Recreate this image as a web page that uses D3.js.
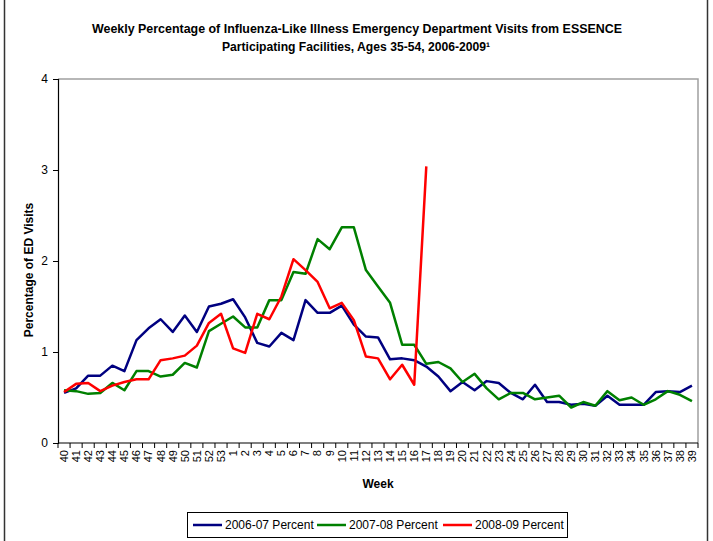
<!DOCTYPE html>
<html>
<head>
<meta charset="utf-8">
<script src="https://cdn.jsdelivr.net/npm/d3@7"></script>
<style>
  body { margin: 0; background: #fff; }
  svg { display: block; font-family: "Liberation Sans", Arial, sans-serif; }
</style>
</head>
<body>
<svg id="chart" width="713" height="541"></svg>
<script>
// weeks of the flu season, week 40 through week 39 of the next year
const weeks = ["40","41","42","43","44","45","46","47","48","49","50","51","52","53",
  "1","2","3","4","5","6","7","8","9","10","11","12","13","14","15","16","17","18","19",
  "20","21","22","23","24","25","26","27","28","29","30","31","32","33","34","35","36",
  "37","38","39"];

const season0607 = [0.55,0.60,0.74,0.74,0.85,0.79,1.13,1.26,1.36,1.22,1.40,1.22,1.50,1.53,
  1.58,1.38,1.10,1.06,1.21,1.13,1.57,1.43,1.43,1.51,1.30,1.17,1.16,0.92,0.93,0.91,0.84,0.73,0.57,
  0.67,0.58,0.68,0.66,0.55,0.48,0.64,0.45,0.45,0.42,0.43,0.41,0.52,0.42,0.42,0.42,0.56,
  0.57,0.56,0.63];

const season0708 = [0.58,0.57,0.54,0.55,0.66,0.58,0.79,0.79,0.73,0.75,0.88,0.83,1.23,1.31,
  1.39,1.27,1.27,1.57,1.57,1.88,1.86,2.24,2.13,2.37,2.37,1.90,1.72,1.54,1.08,1.08,0.87,0.89,0.82,
  0.67,0.76,0.60,0.48,0.55,0.55,0.48,0.50,0.52,0.39,0.45,0.41,0.57,0.47,0.50,0.42,0.48,
  0.57,0.53,0.46];

// 2008-09 season only reported through week 17
const season0809 = [0.56,0.65,0.66,0.57,0.63,0.67,0.70,0.70,0.91,0.93,0.96,1.07,1.32,1.42,
  1.04,0.99,1.42,1.36,1.61,2.02,1.90,1.77,1.48,1.54,1.35,0.95,0.93,0.70,0.86,0.64,3.04];

const seriesNames = ["2006-07 Percent", "2007-08 Percent", "2008-09 Percent"];
const seriesColors = ["#000080", "#008000", "#ff0000"];
const yTicks = [0, 1, 2, 3, 4];

const series = [season0607, season0708, season0809].map((vals, i) => ({
  name: seriesNames[i],
  color: seriesColors[i],
  points: vals.map((v, j) => ({ week: weeks[j], value: v }))
}));

const svg = d3.select("#chart");
const plot = { left: 58, right: 698, top: 79, bottom: 443 };

// outer frame
svg.append("rect")
  .attr("x", 4.5).attr("y", -2)
  .attr("width", 703).attr("height", 546)
  .attr("fill", "none")
  .attr("stroke", "#333")
  .attr("stroke-width", 1.5);

const xScale = d3.scaleBand()
  .domain(weeks)
  .range([plot.left, plot.right])
  .padding(0);

const yScale = d3.scaleLinear()
  .domain([0, 4])
  .range([plot.bottom, plot.top]);

// plot area top/right border in grey
svg.append("path")
  .attr("d", `M${plot.left},${plot.top}H${plot.right}V${plot.bottom}`)
  .attr("fill", "none")
  .attr("stroke", "#a0a0a0")
  .attr("stroke-width", 1.5);

// y axis
const yAxis = svg.append("g")
  .attr("transform", `translate(${plot.left},0)`)
  .call(d3.axisLeft(yScale).tickValues(yTicks).tickFormat(d3.format("d")).tickSize(5).tickPadding(5));
yAxis.select(".domain").attr("stroke", "#000").attr("stroke-width", 1.2);
yAxis.selectAll(".tick line").attr("stroke", "#000");
yAxis.selectAll(".tick text")
  .attr("font-size", 12)
  .attr("font-family", "Liberation Sans, Arial, sans-serif")
  .attr("fill", "#000");

// x axis: labels at category centres, tick marks between categories
const xAxis = svg.append("g")
  .attr("transform", `translate(0,${plot.bottom})`)
  .call(d3.axisBottom(xScale).tickSize(0).tickPadding(0));
xAxis.select(".domain").remove();
xAxis.selectAll(".tick text")
  .attr("font-size", 11)
  .attr("font-family", "Liberation Sans, Arial, sans-serif")
  .attr("fill", "#000")
  .attr("transform", "rotate(-90)")
  .attr("text-anchor", "end")
  .attr("dy", "0.35em")
  .attr("x", -7)
  .attr("y", 0);

svg.append("line")
  .attr("x1", plot.left).attr("x2", plot.right)
  .attr("y1", plot.bottom).attr("y2", plot.bottom)
  .attr("stroke", "#000").attr("stroke-width", 1.2);

const boundaries = weeks.map(w => xScale(w)).concat([xScale(weeks[weeks.length - 1]) + xScale.bandwidth()]);
svg.append("g")
  .selectAll("line")
  .data(boundaries)
  .enter()
  .append("line")
  .attr("x1", d => d).attr("x2", d => d)
  .attr("y1", plot.bottom).attr("y2", plot.bottom + 5)
  .attr("stroke", "#000");

// lines
const line = d3.line()
  .x(d => xScale(d.week) + xScale.bandwidth() / 2)
  .y(d => yScale(d.value));

svg.append("g")
  .selectAll("path")
  .data(series)
  .enter()
  .append("path")
  .attr("d", d => line(d.points))
  .attr("fill", "none")
  .attr("stroke", d => d.color)
  .attr("stroke-width", 2.5)
  .attr("stroke-linejoin", "round");

// title
const title = svg.append("g")
  .attr("font-weight", "bold")
  .attr("font-size", 12)
  .attr("font-family", "Liberation Sans Narrow, Arial Narrow, Liberation Sans, sans-serif");
title.append("text")
  .attr("x", 357).attr("y", 33)
  .attr("text-anchor", "middle")
  .attr("textLength", 530).attr("lengthAdjust", "spacingAndGlyphs")
  .text("Weekly Percentage of Influenza-Like Illness Emergency Department Visits from ESSENCE");
title.append("text")
  .attr("x", 356).attr("y", 51)
  .attr("text-anchor", "middle")
  .attr("textLength", 268).attr("lengthAdjust", "spacingAndGlyphs")
  .text("Participating Facilities, Ages 35-54, 2006-2009¹");

// axis titles
svg.append("text")
  .attr("transform", "translate(33,270) rotate(-90)")
  .attr("text-anchor", "middle")
  .attr("font-weight", "bold")
  .attr("font-size", 12)
  .text("Percentage of ED Visits");

svg.append("text")
  .attr("x", 378).attr("y", 488)
  .attr("text-anchor", "middle")
  .attr("font-weight", "bold")
  .attr("font-size", 12)
  .text("Week");

// legend
const legend = svg.append("g");
legend.append("rect")
  .attr("x", 187.5).attr("y", 512.5)
  .attr("width", 380).attr("height", 25)
  .attr("fill", "#fff")
  .attr("stroke", "#000");

const legendX = [193, 317, 443];
const item = legend.selectAll(".item")
  .data(series)
  .enter()
  .append("g")
  .attr("class", "item")
  .attr("transform", (d, i) => `translate(${legendX[i]},525)`);
item.append("line")
  .attr("x1", 0).attr("x2", 29)
  .attr("stroke", d => d.color)
  .attr("stroke-width", 2.5);
item.append("text")
  .attr("x", 32).attr("y", 0)
  .attr("dy", "0.35em")
  .attr("font-size", 12)
  .text(d => d.name);
</script>
</body>
</html>
